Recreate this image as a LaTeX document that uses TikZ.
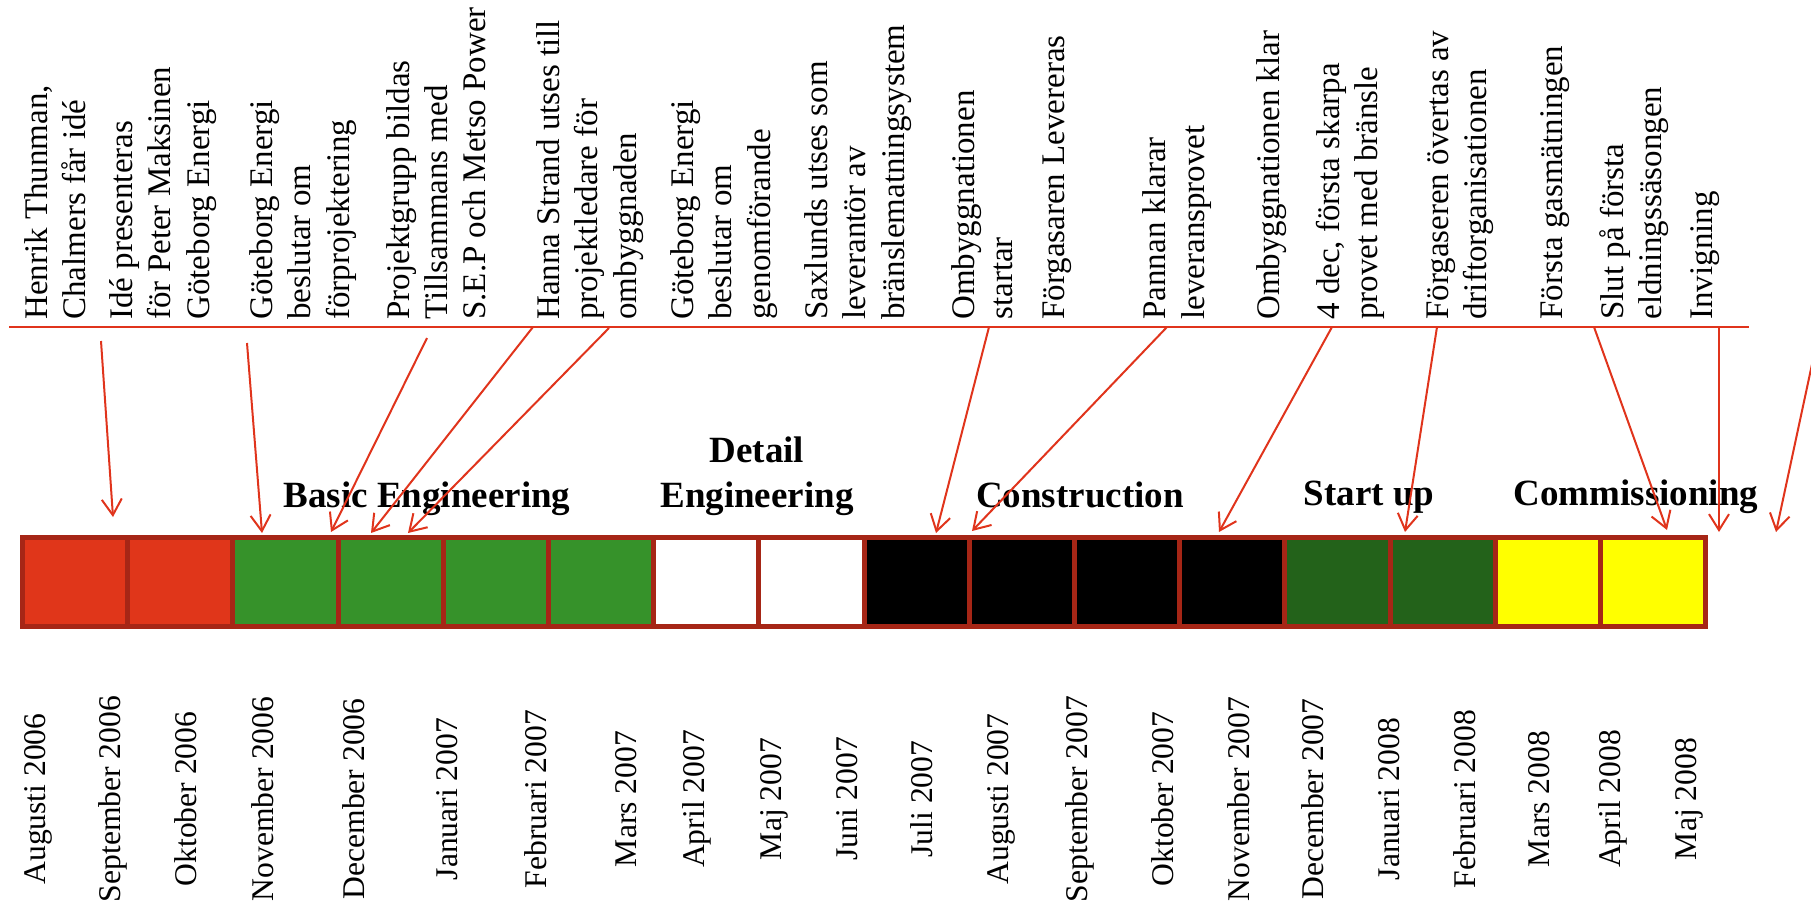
\documentclass[tikz,border=0pt]{standalone}
\usepackage{fontspec}
\setmainfont{Liberation Serif}
\usetikzlibrary{arrows.meta,positioning}
\tikzset{>={Straight Barb[length=8pt,width=10pt]}}
\definecolor{linered}{RGB}{224,52,28}
\definecolor{boxborder}{RGB}{166,38,22}
\definecolor{redfill}{RGB}{224,54,26}
\definecolor{greenfill}{RGB}{54,146,42}
\definecolor{darkgreen}{RGB}{35,98,26}
\definecolor{yellowfill}{RGB}{255,255,0}

\begin{document}
\begin{tikzpicture}[x=0.5pt, y=-0.5pt]
  \tikzstyle{every node}=[inner sep=0pt]
    \tikzstyle{event}=[rotate=90, anchor=west, align=left, font=\fontsize{16.5}{19.1}\selectfont]
    \tikzstyle{month}=[rotate=90, font=\fontsize{15.8}{19}\selectfont]
    \tikzstyle{phase}=[align=center, font=\fontsize{18.5}{22.5}\selectfont\bfseries]
    \tikzstyle{cell}=[draw=boxborder, line width=2.5pt, outer sep=0pt, minimum width=52.6pt, minimum height=44.75pt]
    \useasboundingbox (0,0) rectangle (1811,912);

    % events above the line
    \node(t1) [event] at (55,320)   {Henrik Thunman,\\Chalmers får idé};
    \node(t2) [event] at (163,320)  {Idé presenteras\\för Peter Maksinen\\Göteborg Energi};
    \node(t3) [event] at (303,320)  {Göteborg Energi\\beslutar om\\förprojektering};
    \node(t4) [event] at (436,320)  {Projektgrupp bildas\\Tillsammans med\\S.E.P och Metso Power};
    \node(t5) [event] at (590,320)  {Hanna Strand utses till\\projektledare för\\ombyggnaden};
    \node(t6) [event] at (724,320)  {Göteborg Energi\\beslutar om\\genomförande};
    \node(t7) [event] at (858,320)  {Saxlunds utses som\\leverantör av\\bränslematningsystem};
    \node(t8) [event] at (982,320)  {Ombyggnationen\\startar};
    \node(t9) [event] at (1057,320) {Förgasaren Levereras};
    \node(t10) [event] at (1177,320) {Pannan klarar\\leveransprovet};
    \node(t11) [event] at (1272,320) {Ombyggnationen klar};
    \node(t12) [event] at (1350,320) {4 dec, första skarpa\\provet med bränsle};
    \node(t13) [event] at (1460,320) {Förgaseren övertas av\\driftorganisationen};
    \node(t14) [event] at (1555,320) {Första gasmätningen};
    \node(t15) [event] at (1634,320) {Slut på första\\eldningssäsongen};
    \node(t16) [event] at (1705,320) {Invigning};

    \coordinate(l1) at (9,327);
    \coordinate(l2) at (1749,327);
    \draw [draw=linered, line width=1pt] (l1) -- (l2);

    % the months as boxes
    \node(b1) [cell, fill=redfill] at (75.1,581.75) {};
    \node(b2) [cell, fill=redfill, right=0pt of b1] {};
    \node(b3) [cell, fill=greenfill, right=0pt of b2] {};
    \node(b4) [cell, fill=greenfill, right=0pt of b3] {};
    \node(b5) [cell, fill=greenfill, right=0pt of b4] {};
    \node(b6) [cell, fill=greenfill, right=0pt of b5] {};
    \node(b7) [cell, fill=white, right=0pt of b6] {};
    \node(b8) [cell, fill=white, right=0pt of b7] {};
    \node(b9) [cell, fill=black, right=0pt of b8] {};
    \node(b10) [cell, fill=black, right=0pt of b9] {};
    \node(b11) [cell, fill=black, right=0pt of b10] {};
    \node(b12) [cell, fill=black, right=0pt of b11] {};
    \node(b13) [cell, fill=darkgreen, right=0pt of b12] {};
    \node(b14) [cell, fill=darkgreen, right=0pt of b13] {};
    \node(b15) [cell, fill=yellowfill, right=0pt of b14] {};
    \node(b16) [cell, fill=yellowfill, right=0pt of b15] {};

    \node(p1) [phase, anchor=base] at (427,507) {Basic Engineering};
    \node(p2) [phase] at (757,476) {Detail\\Engineering};
    \node(p3) [phase, anchor=base] at (1080,507) {Construction};
    \node(p4) [phase, anchor=base] at (1369,505) {Start up};
    \node(p5) [phase, anchor=base] at (1636,505) {Commissioning};

    % month names
    \node(m1) [month] at (38,799)   {Augusti 2006};
    \node(m2) [month] at (113,799)  {September 2006};
    \node(m3) [month] at (186,799)  {Oktober 2006};
    \node(m4) [month] at (263,799)  {November 2006};
    \node(m5) [month] at (354,799)  {December 2006};
    \node(m6) [month] at (447,799)  {Januari 2007};
    \node(m7) [month] at (536,799)  {Februari 2007};
    \node(m8) [month] at (626,799)  {Mars 2007};
    \node(m9) [month] at (697,799)  {April 2007};
    \node(m10) [month] at (774,799) {Maj 2007};
    \node(m11) [month] at (847,799) {Juni 2007};
    \node(m12) [month] at (922,799) {Juli 2007};
    \node(m13) [month] at (1001,799) {Augusti 2007};
    \node(m14) [month] at (1080,799) {September 2007};
    \node(m15) [month] at (1163,799) {Oktober 2007};
    \node(m16) [month] at (1239,799) {November 2007};
    \node(m17) [month] at (1313,799) {December 2007};
    \node(m18) [month] at (1389,799) {Januari 2008};
    \node(m19) [month] at (1465,799) {Februari 2008};
    \node(m20) [month] at (1539,799) {Mars 2008};
    \node(m21) [month] at (1613,799) {April 2008};
    \node(m22) [month] at (1689,799) {Maj 2008};

    % arrows from the line down to the boxes
    \coordinate(s1) at (101,341);   \coordinate(e1) at (113,517);
    \coordinate(s2) at (247,343);   \coordinate(e2) at (262,533);
    \coordinate(s3) at (427,338);   \coordinate(e3) at (331,532);
    \coordinate(s4) at (533,327);   \coordinate(e4) at (371,533);
    \coordinate(s5) at (609,328);   \coordinate(e5) at (408,533);
    \coordinate(s6) at (989,327);   \coordinate(e6) at (936,533);
    \coordinate(s7) at (1167,327);  \coordinate(e7) at (972,531);
    \coordinate(s8) at (1332,327);  \coordinate(e8) at (1219,532);
    \coordinate(s9) at (1437,327);  \coordinate(e9) at (1405,532);
    \coordinate(s10) at (1594,327); \coordinate(e10) at (1667,530);
    \coordinate(s11) at (1719,327); \coordinate(e11) at (1719,532);
    \coordinate(s12) at (1820,327); \coordinate(e12) at (1776,532);

    \draw [->][draw=linered, line width=1pt] (s1) to (e1);
    \draw [->][draw=linered, line width=1pt] (s2) to (e2);
    \draw [->][draw=linered, line width=1pt] (s3) to (e3);
    \draw [->][draw=linered, line width=1pt] (s4) to (e4);
    \draw [->][draw=linered, line width=1pt] (s5) to (e5);
    \draw [->][draw=linered, line width=1pt] (s6) to (e6);
    \draw [->][draw=linered, line width=1pt] (s7) to (e7);
    \draw [->][draw=linered, line width=1pt] (s8) to (e8);
    \draw [->][draw=linered, line width=1pt] (s9) to (e9);
    \draw [->][draw=linered, line width=1pt] (s10) to (e10);
    \draw [->][draw=linered, line width=1pt] (s11) to (e11);
    \draw [->][draw=linered, line width=1pt] (s12) to (e12);

  \end{tikzpicture}
\end{document}
